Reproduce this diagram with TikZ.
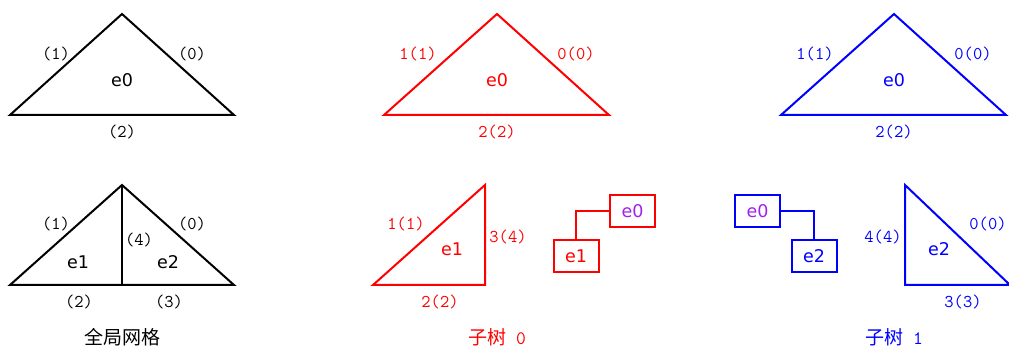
\documentclass[tikz,border=0pt]{standalone}
\usepackage{fontspec}
\newfontfamily\esans{DejaVu Sans}
\newfontfamily\cjk{Noto Sans CJK SC}
\definecolor{mypurple}{RGB}{160,32,240}
\begin{document}
\begin{tikzpicture}[x=1pt,y=-1pt,
  edge/.style={line width=2pt,line join=miter},
  elab/.style={inner sep=0pt,font=\esans\fontsize{17.5}{20}\selectfont},
  nlab/.style={inner sep=0pt,font=\ttfamily\fontsize{18}{20}\selectfont},
  captext/.style={inner sep=0pt,anchor=base,font=\fontsize{19}{22}\selectfont},
  tbox/.style={draw,line width=2pt,minimum width=45pt,minimum height=32pt,inner sep=0pt,font=\esans\fontsize{17.5}{20}\selectfont}]
\useasboundingbox (0,0) rectangle (1009,347);
% ---- top left
\coordinate (a1) at (122,14); \coordinate (b1) at (10,115); \coordinate (c1) at (234,115);
\draw[edge] (a1) -- (b1) -- (c1) -- cycle;
\node[elab] (t1e) at (122,80) {e0};
\node[nlab] (t1l) at (56,54) {(1)};
\node[nlab] (t1r) at (192,54) {(0)};
\node[nlab] (t1b) at (122,132) {(2)};
% ---- top middle
\begin{scope}[red]
\coordinate (a2) at (497,14); \coordinate (b2) at (384,115); \coordinate (c2) at (609,115);
\draw[edge] (a2) -- (b2) -- (c2) -- cycle;
\node[elab] (t2e) at (497,80) {e0};
\node[nlab] (t2l) at (418,54) {1(1)};
\node[nlab] (t2r) at (576,54) {0(0)};
\node[nlab] (t2b) at (497,132) {2(2)};
\end{scope}
% ---- top right
\begin{scope}[blue]
\coordinate (a3) at (894,14); \coordinate (b3) at (781,115); \coordinate (c3) at (1006,115);
\draw[edge] (a3) -- (b3) -- (c3) -- cycle;
\node[elab] (t3e) at (894,80) {e0};
\node[nlab] (t3l) at (815,54) {1(1)};
\node[nlab] (t3r) at (973,54) {0(0)};
\node[nlab] (t3b) at (894,132) {2(2)};
\end{scope}
% ---- bottom left
\coordinate (a4) at (122,185); \coordinate (b4) at (10,285); \coordinate (c4) at (234,285); \coordinate (m4) at (122,285);
\draw[edge] (a4) -- (b4) -- (c4) -- cycle;
\draw[edge] (a4) -- (m4);
\node[elab] (b4e1) at (78,262) {e1};
\node[elab] (b4e2) at (168,262) {e2};
\node[nlab] (b4l) at (56,224) {(1)};
\node[nlab] (b4r) at (192,224) {(0)};
\node[nlab] (b4m) at (139,240) {(4)};
\node[nlab] (b4b1) at (79,302) {(2)};
\node[nlab] (b4b2) at (169,302) {(3)};
\node[captext] (cap1) at (122,344) {\cjk 全局网格};
% ---- bottom middle
\begin{scope}[red]
\coordinate (a5) at (485,185); \coordinate (b5) at (373,285); \coordinate (c5) at (485,285);
\draw[edge] (a5) -- (b5) -- (c5) -- cycle;
\node[elab] (b5e) at (452,249) {e1};
\node[nlab] (b5l) at (406,224) {1(1)};
\node[nlab] (b5r) at (508,237) {3(4)};
\node[nlab] (b5b) at (440,302) {2(2)};
\node[tbox,text=mypurple] (s0e0) at (632.5,211) {e0};
\node[tbox] (s0e1) at (576,256) {e1};
\draw[line width=2pt] (s0e1.north) |- (s0e0.west);
\node[captext] (cap2) at (497,344) {\cjk 子树\hspace{10pt}\ttfamily 0};
\end{scope}
% ---- bottom right
\begin{scope}[blue]
\node[tbox,text=mypurple] (s1e0) at (757.5,211) {e0};
\node[tbox] (s1e2) at (814,256) {e2};
\draw[line width=2pt] (s1e0.east) -| (s1e2.north);
\coordinate (a6) at (905,185); \coordinate (b6) at (905,285); \coordinate (c6) at (1010,285);
\draw[edge] (a6) -- (b6) -- (c6) -- cycle;
\node[elab] (b6e) at (939,249) {e2};
\node[nlab] (b6l) at (883,237) {4(4)};
\node[nlab] (b6r) at (988,224) {0(0)};
\node[nlab] (b6b) at (963,302) {3(3)};
\node[captext] (cap3) at (894,344) {\cjk 子树\hspace{10pt}\ttfamily 1};
\end{scope}
\end{tikzpicture}
\end{document}
